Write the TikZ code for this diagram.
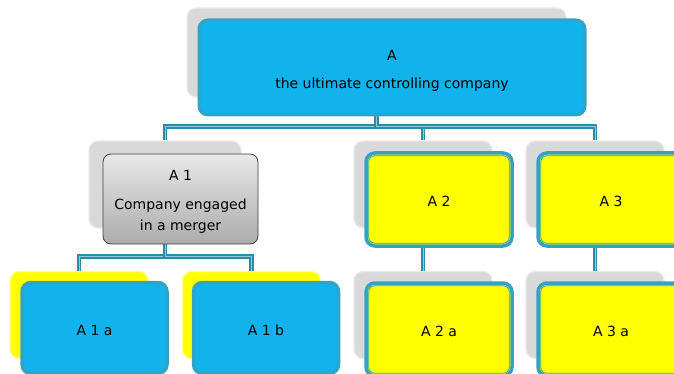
\documentclass[tikz,border=0pt]{standalone}
\usepackage{fontspec}
\setmainfont{DejaVu Sans}
\usepackage{xcolor}
\usetikzlibrary{calc}
\definecolor{boxblue}{HTML}{12B3EC}
\definecolor{rimblue}{HTML}{33A3C4}
\definecolor{linkteal}{HTML}{2B8CA8}
\definecolor{linklight}{HTML}{8CCCDD}
\definecolor{backgray}{HTML}{D9D9D9}
\definecolor{backrim}{HTML}{EAEAEA}
\definecolor{boxyellow}{HTML}{FFFF00}

\begin{document}
\begin{tikzpicture}[x=1pt,y=-1pt,
  every node/.style={font=\fontsize{14}{21}\selectfont,align=center,inner sep=0pt,rounded corners=9pt},
  back/.style={fill=backgray,draw=backrim,line width=1.2pt,minimum width=138pt,minimum height=87pt},
  backyellow/.style={back,fill=boxyellow,draw=boxyellow!40},
  bluebox/.style={text height=15pt,fill=boxblue,draw=rimblue,line width=3.5pt,minimum width=145pt,minimum height=91pt},
  goldbox/.style={text height=15pt,fill=boxyellow,draw=rimblue,line width=3.5pt,minimum width=146pt,minimum height=93pt},
  graybox/.style={top color=gray!18,bottom color=gray!65,draw=black!75,line width=0.8pt,
    rounded corners=8pt,minimum width=155pt,minimum height=90pt},
  link/.style={draw=linkteal,double=linklight,line width=1.7pt,double distance=0.9pt}]
\clip (0,0) rectangle (674,374);
% grey and yellow boxes behind
\node[back,minimum width=379pt,minimum height=89pt] (a-bg) at (376.5,52.5) {};
\node[back,minimum width=152pt] (a1-bg) at (165,184.5) {};
\node[back] (a2-bg) at (423,184.5) {};
\node[back] (a3-bg) at (595,184.5) {};
\node[back] (a2a-bg) at (423,315) {};
\node[back] (a3a-bg) at (595,315) {};
\node[backyellow] (a1a-bg) at (79,315) {};
\node[backyellow] (a1b-bg) at (251.5,315) {};
% connectors
\draw[link] (a-bg.south) -- ++(0,29) -| (a1-bg.north);
\draw[link] (a-bg.south) -- ++(0,29) -| (a2-bg.north);
\draw[link] (a-bg.south) -- ++(0,29) -| (a3-bg.north);
\draw[link] (a1-bg.south) -- ++(0,28) -| (a1a-bg.north);
\draw[link] (a1-bg.south) -- ++(0,28) -| (a1b-bg.north);
\draw[link] (a2-bg.south) -- (a2a-bg.north);
\draw[link] (a3-bg.south) -- (a3a-bg.north);
% boxes in front
\node[bluebox,text height=44pt,line width=3pt,minimum width=386pt,minimum height=95pt] (a) at (392,67.5) {A\\[7pt]the ultimate controlling company};
\node[graybox,text height=66pt] (a1) at (180.5,199) {A 1\\[8pt]Company engaged\\in a merger};
\node[goldbox] (a2) at (439,199.5) {A 2};
\node[goldbox] (a3) at (611,199.5) {A 3};
\node[goldbox] (a2a) at (439,329.5) {A 2 a};
\node[goldbox] (a3a) at (611,329.5) {A 3 a};
\node[bluebox] (a1a) at (94.5,328) {A 1 a};
\node[bluebox] (a1b) at (266,328) {A 1 b};
\foreach \n in {a2,a3,a2a,a3a}
  \draw[rimblue,line width=0.8pt,rounded corners=6pt]
    ($(\n.north west)+(4.5pt,-4.5pt)$) rectangle ($(\n.south east)+(-4.5pt,4.5pt)$);
\end{tikzpicture}
\end{document}
